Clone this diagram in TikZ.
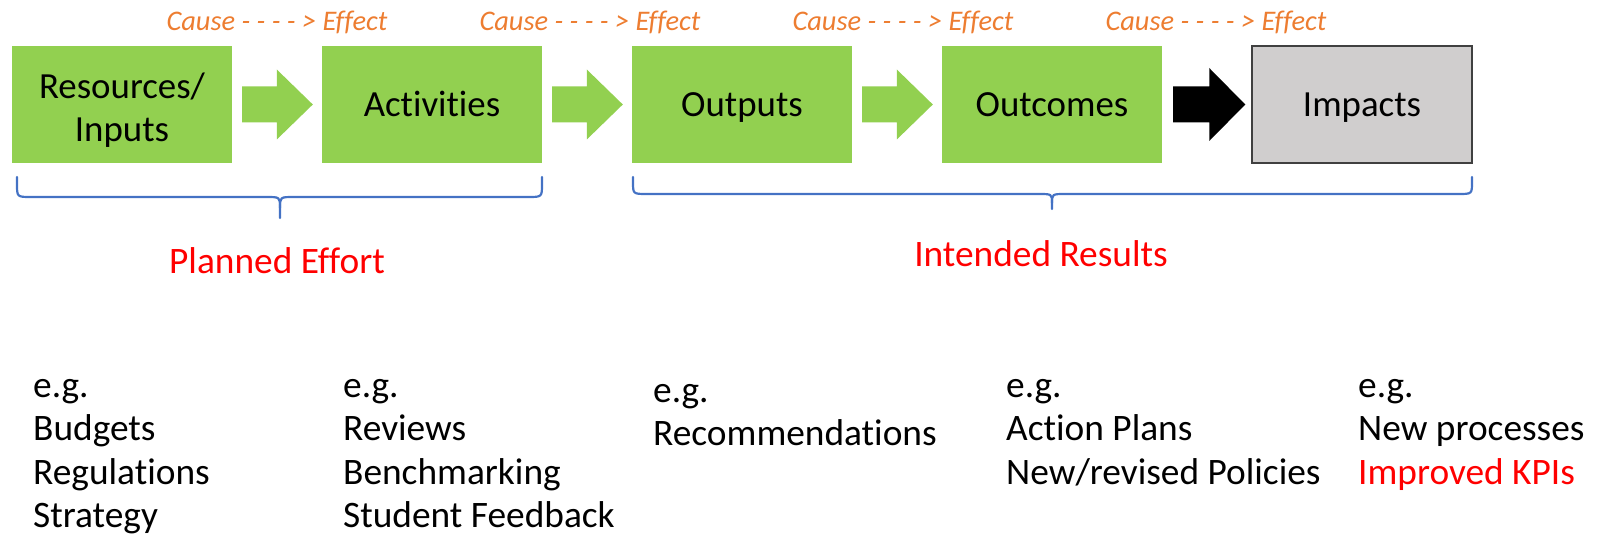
\documentclass[tikz,border=0pt]{standalone}
\usepackage{fontspec}
\setmainfont{Carlito}[Ligatures={NoCommon}]
\usetikzlibrary{calc}
\definecolor{boxgreen}{HTML}{92D050}
\definecolor{causeorange}{HTML}{ED7D31}
\definecolor{braceblue}{HTML}{4472C4}
\definecolor{labelred}{HTML}{FF0000}
\definecolor{impactgray}{HTML}{D0CECE}
\definecolor{impactborder}{HTML}{404040}
\newcommand\blockarr[6]{% from, to, colour, start gap, end gap, head half
  \path (#1.east) ++(#4,0) coordinate (bs);
  \path (#2.west) ++(-#5,0) coordinate (be);
  \fill[#3] ($(bs)+(0,-18)$) -- ($(be)+(-36,-18)$) -- ($(be)+(-36,-#6)$) -- (be)
    -- ($(be)+(-36,#6)$) -- ($(be)+(-36,18)$) -- ($(bs)+(0,18)$) -- cycle;}
\newcommand\colitems[4]{% name, x, first baseline, items
  \foreach \t [count=\i from 0] in {#4} {
    \node[item] (#1-\i) at (#2, #3+43.5*\i) {\t};
  }}
\begin{document}
\begin{tikzpicture}[x=1bp,y=-1bp,
  stagebase/.style={fill=boxgreen, minimum width=220bp, minimum height=117bp,
    inner sep=0pt, align=center, font=\fontsize{37}{44}\selectfont},
  stage/.style={stagebase, text height=33bp, text depth=8.6bp},
  impactbox/.style={stage, fill=impactgray, draw=impactborder, line width=1.5bp},
  causelbl/.style={anchor=base, inner sep=0pt, text=causeorange,
    font=\fontsize{28.5}{34}\selectfont\itshape},
  groupbrace/.style={draw=braceblue, line width=2.2bp, line cap=round, line join=round},
  grouplbl/.style={anchor=base, inner sep=0pt, text=labelred,
    font=\fontsize{37.5}{45}\selectfont},
  item/.style={anchor=base west, inner sep=0pt, font=\fontsize{37.5}{45}\selectfont}]
\useasboundingbox (0,0) rectangle (1599,537);

% stages
\node[stagebase] (res) at (122,104.5) {\rule{0pt}{40bp}Resources/\\Inputs\rule[-9bp]{0pt}{0pt}};
\node[stage] (act) at (432,104.5) {Activities};
\node[stage] (outp) at (742,104.5) {Outputs};
\node[stage] (outc) at (1052,104.5) {Outcomes};
\node[impactbox] (imp) at (1362,104.5) {Impacts};

% block arrows
\blockarr{res}{act}{boxgreen}{10}{9}{35}
\blockarr{act}{outp}{boxgreen}{10}{9}{35}
\blockarr{outp}{outc}{boxgreen}{10}{9}{35}
\blockarr{outc}{imp}{black}{11}{6}{36.5}

% cause labels
\node[causelbl] (c1) at (277,31) {Cause - - - - > Effect};
\node[causelbl] (c2) at (590,31) {Cause - - - - > Effect};
\node[causelbl] (c3) at (903,31) {Cause - - - - > Effect};
\node[causelbl] (c4) at (1216,31) {Cause - - - - > Effect};

% braces
\draw[groupbrace] (17,177) -- (17,184) .. controls (17,197) .. (31,197) -- (266,197)
  .. controls (280,197) .. (280,208) -- (280,218);
\draw[groupbrace] (542,177) -- (542,184) .. controls (542,197) .. (528,197) -- (294,197)
  .. controls (280,197) .. (280,208);
\draw[groupbrace] (633,177) -- (633,182) .. controls (633,194) .. (647,194) -- (1038,194)
  .. controls (1052,194) .. (1052,203) -- (1052,209);
\draw[groupbrace] (1472,177) -- (1472,182) .. controls (1472,194) .. (1458,194) -- (1066,194)
  .. controls (1052,194) .. (1052,203);

\node[grouplbl] (pe) at (277,274) {Planned Effort};
\node[grouplbl] (ir) at (1041,267) {Intended Results};

% examples
\colitems{ex1}{33}{397}{e.g., Budgets, Regulations, Strategy}
\colitems{ex2}{343}{397}{e.g., Reviews, Benchmarking, Student Feedback}
\colitems{ex3}{653}{402}{e.g., Recommendations}
\colitems{ex4}{1006}{397}{e.g., Action Plans, New/revised Policies}
\colitems{ex5}{1358}{397}{e.g., New processes, {\color{labelred}Improved KPIs}}
\end{tikzpicture}
\end{document}
